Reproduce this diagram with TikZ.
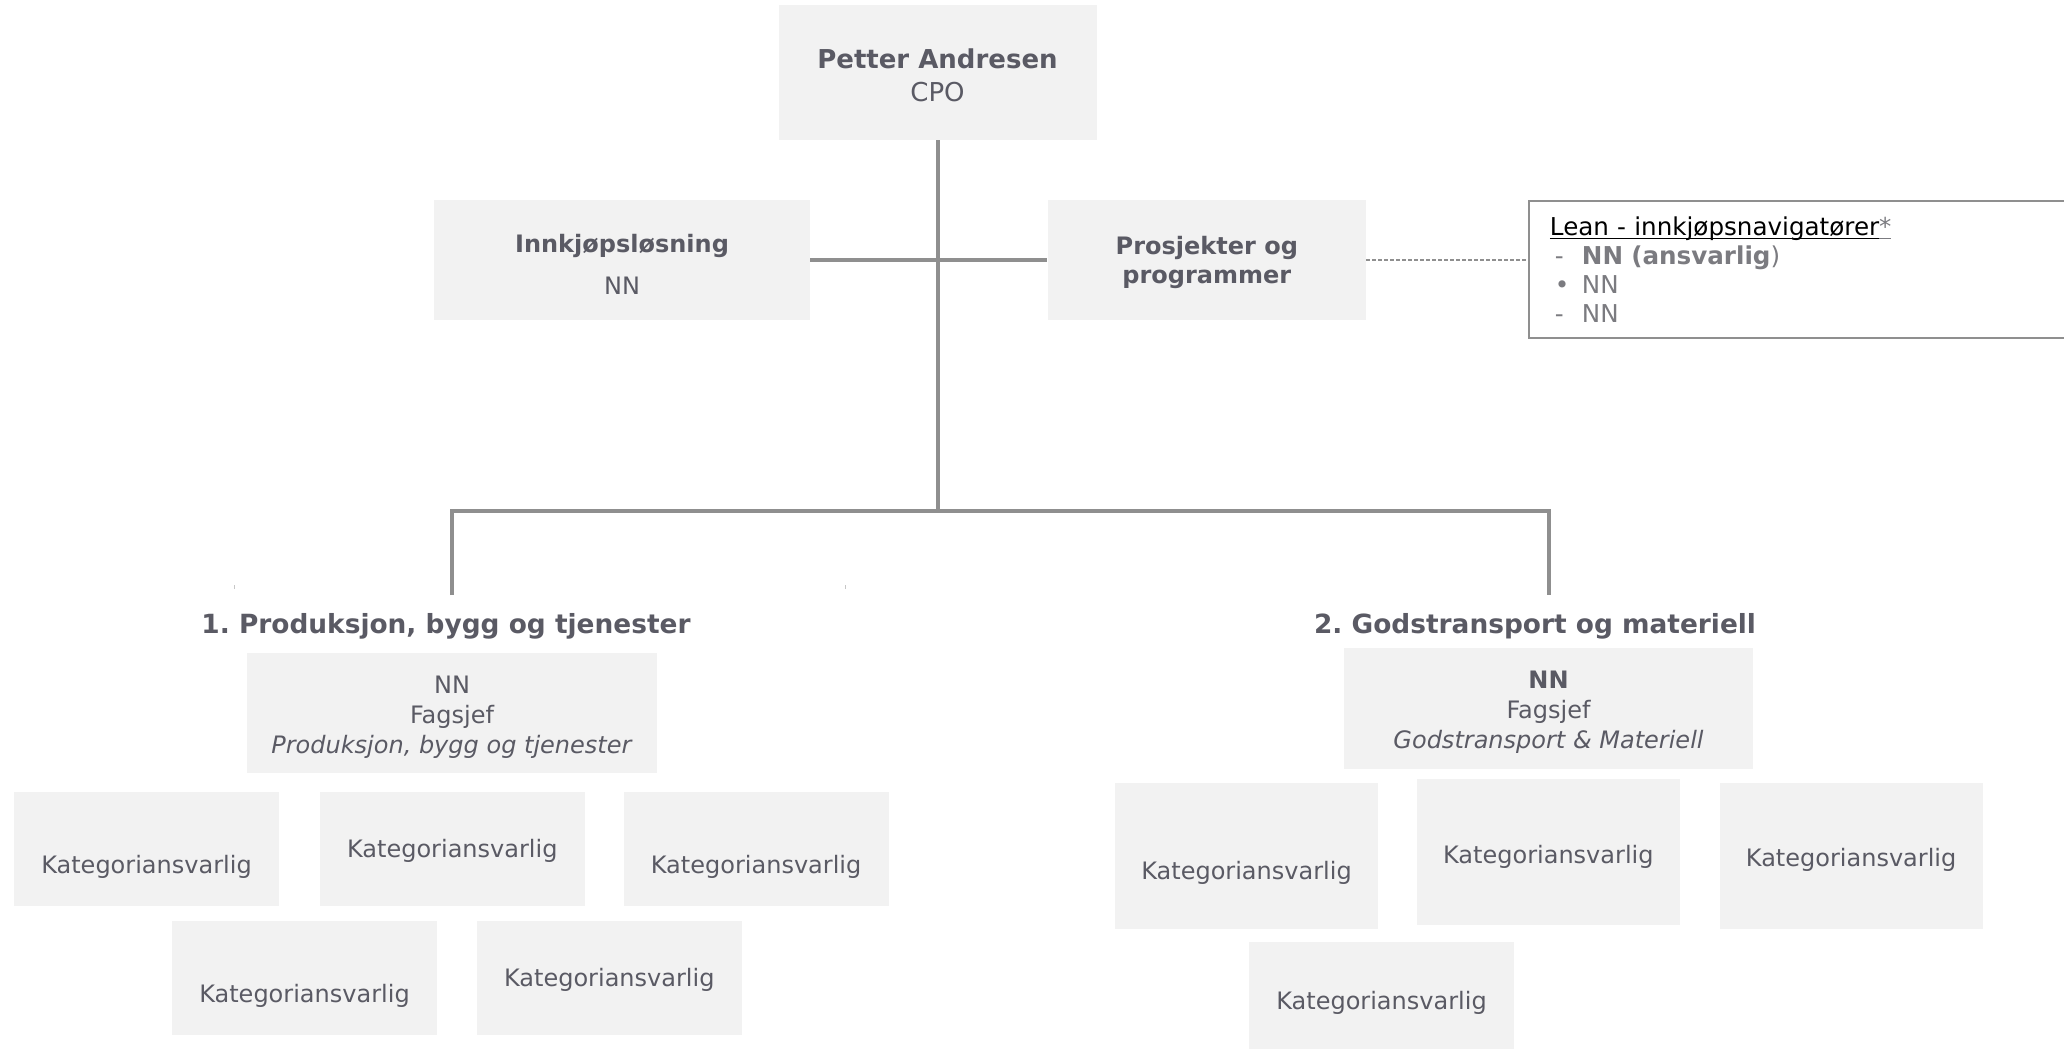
\documentclass[tikz,border=0pt]{standalone}
\usepackage{fontspec}
\setmainfont{DejaVu Sans}
\usetikzlibrary{positioning}
\definecolor{boxgray}{HTML}{F2F2F2}
\definecolor{txtgray}{HTML}{5A5A64}
\definecolor{linegray}{HTML}{8F8F8F}
\definecolor{listgray}{HTML}{7B7B80}
\newcommand\uln[1]{\setbox0\hbox{#1}\rlap{\rule[-2pt]{\wd0}{0.7pt}}\box0}

\begin{document}
\begin{tikzpicture}[x=0.5pt,y=-0.5pt,
  box/.style={fill=boxgray,text=txtgray,align=center,inner sep=0pt,font=\fontsize{12}{15}\selectfont},
  kat/.style={box,minimum width=132.5pt,minimum height=57pt,text height=11.6pt,text depth=3pt},
  head/.style={text=txtgray,inner sep=0pt,font=\fontsize{13.2}{16}\selectfont\bfseries},
  orgline/.style={draw=linegray,line width=2pt},
  dotline/.style={draw=linegray,line width=0.6pt,dash pattern=on 2pt off 1pt}]
\useasboundingbox (0,0) rectangle (2064,1050);

\node[box,minimum width=159pt,minimum height=67.5pt,font=\fontsize{13}{16.5}\selectfont](cpo) at (937.5,72.5){\rule{0pt}{12.5pt}\textbf{Petter Andresen}\\CPO};
\node[box,minimum width=188pt,minimum height=60pt](inn) at (622,260){\rule{0pt}{13.6pt}\textbf{Innkjøpsløsning}\\[6pt]NN};
\node[box,minimum width=159pt,minimum height=60pt,font=\fontsize{12}{14.5}\selectfont\bfseries,right=118.5pt of inn](pro){\rule{0pt}{11.7pt}Prosjekter og\\programmer};
\node[draw=linegray,line width=0.75pt,text width=280pt,inner xsep=10.5pt,inner ysep=0pt,minimum height=68.5pt,align=left,font=\fontsize{12.3}{14.5}\selectfont,right=81pt of pro,yshift=-4.75pt](lean){\uln{Lean - innkjøpsnavigatører}\textcolor{listgray}{\uln{*}}\\
{\color{listgray}\makebox[16pt][l]{\hspace{2.5pt}-}\textbf{NN (ansvarlig})}\\
{\color{listgray}\makebox[16pt][l]{\hspace{2.5pt}•}NN}\\
{\color{listgray}\makebox[16pt][l]{\hspace{2.5pt}-}NN}};

\coordinate (hub) at (937.5,511);
\coordinate (d1) at (452,595);
\coordinate (d2) at (1549,595);
\path[orgline] (cpo.south) -- (hub);
\path[orgline] (inn.east) -- (pro.west);
\path[orgline] (d1) |- (hub) -| (d2);
\path[dotline] (pro.east) -- (pro.east -| lean.west);
\draw[linegray!50,line width=0.5pt] (234,585) -- (234,589);
\draw[linegray!50,line width=0.5pt] (845,585) -- (845,589);

\node[head](h1) at (446,626){1.\ Produksjon, bygg og tjenester};
\node[head](h2) at (1535,626){2.\ Godstransport og materiell};

\node[box,minimum width=205pt,minimum height=60pt](f1) at (452,713){\rule{0pt}{12.8pt}NN\\Fagsjef\\\textit{Produksjon, bygg og tjenester}};
\node[box,minimum width=204.5pt,minimum height=60.5pt](f2) at (1548.5,708.5){\rule{0pt}{12.3pt}\textbf{NN}\\Fagsjef\\\textit{Godstransport \& Materiell}};

\node[kat,text height=27.6pt](k1) at (146.5,849){Kategoriansvarlig};
\node[kat,right=20pt of k1](k2){Kategoriansvarlig};
\node[kat,text height=27.6pt,right=19pt of k2](k3){Kategoriansvarlig};
\node[kat,text height=27pt](k4) at (304.5,978){Kategoriansvarlig};
\node[kat,right=19.5pt of k4](k5){Kategoriansvarlig};

\node[kat,minimum width=131.5pt,minimum height=73pt,text height=26.6pt](k6) at (1246.5,856){Kategoriansvarlig};
\node[kat,minimum width=131.5pt,minimum height=73pt,text height=14.3pt,right=19pt of k6,yshift=2pt](k7){Kategoriansvarlig};
\node[kat,minimum width=131.5pt,minimum height=73pt,text height=13pt,right=19.5pt of k7,yshift=-2pt](k8){Kategoriansvarlig};
\node[kat,minimum height=53.5pt,text height=17pt](k9) at (1381.5,995.5){Kategoriansvarlig};

\end{tikzpicture}
\end{document}
